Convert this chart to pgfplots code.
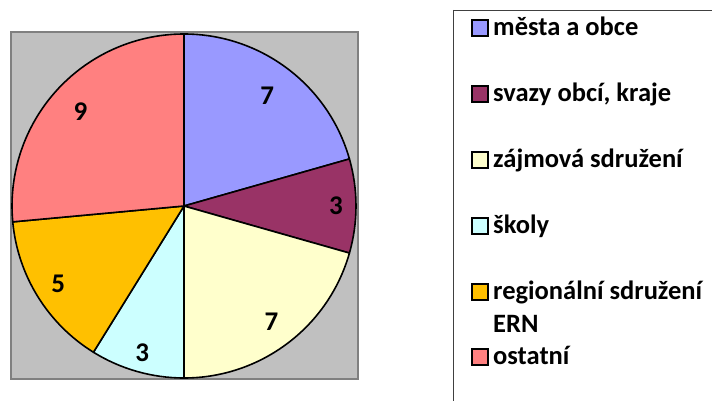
\documentclass[border=0pt]{standalone}
\usepackage{pgfplots}
\usepackage{pgfplotstable}
\usepackage{fontspec}
\setmainfont{Carlito}
\pgfplotsset{compat=1.18}

\definecolor{cblue}{HTML}{9999FF}
\definecolor{cplum}{HTML}{993366}
\definecolor{cyell}{HTML}{FFFFCC}
\definecolor{ccyan}{HTML}{CCFFFF}
\definecolor{corng}{HTML}{FFC000}
\definecolor{cred}{HTML}{FF8080}
\definecolor{bggray}{HTML}{C0C0C0}
\definecolor{frgray}{HTML}{808080}

% value, slice colour, label distance from centre (bp)
\pgfplotstableread{
value col   lr
7     cblue 138
3     cplum 152
7     cyell 145
3     ccyan 153
5     corng 148
9     cred  140
}\piedata

\begin{document}
\begin{tikzpicture}[x=1bp,y=1bp]
\useasboundingbox (0,0) rectangle (712,400);
\begin{axis}[
    at={(11bp,21bp)}, anchor=south west,
    x=1bp, y=1bp,
    xmin=-173, xmax=174, ymin=-173, ymax=174,
    xtick=\empty, ytick=\empty,
    axis line style={draw=frgray, line width=1.5bp},
    axis background/.style={fill=bggray},
    clip=false,
]
\pgfplotstablegetrowsof{\piedata}
\pgfmathtruncatemacro\nrows{\pgfplotsretval-1}
\def\total{0}
\pgfplotsforeachungrouped \i in {0,...,\nrows}{
    \pgfplotstablegetelem{\i}{value}\of\piedata
    \pgfmathsetmacro\total{\total+\pgfplotsretval}
}
\def\cum{0}
\pgfplotsforeachungrouped \i in {0,...,\nrows}{
    \pgfplotstablegetelem{\i}{value}\of\piedata \let\v\pgfplotsretval
    \pgfplotstablegetelem{\i}{col}\of\piedata \let\c\pgfplotsretval
    \pgfplotstablegetelem{\i}{lr}\of\piedata \let\lr\pgfplotsretval
    \pgfmathsetmacro\a{90-\cum*360/\total}
    \pgfmathsetmacro\b{\a-\v*360/\total}
    \pgfmathsetmacro\m{(\a+\b)/2}
    \pgfmathsetmacro\ax{172*cos(\a)}
    \pgfmathsetmacro\ay{172*sin(\a)}
    \pgfmathsetmacro\lx{\lr*cos(\m)}
    \pgfmathsetmacro\ly{\lr*sin(\m)}
    \pgfmathtruncatemacro\vi{\v}
    \edef\temp{%
      \noexpand\filldraw[fill=\c, draw=black, line width=1.6bp, line join=round]
        (axis cs:0,0) -- (axis cs:\ax,\ay)
        arc[start angle=\a, end angle=\b, radius=172bp] -- cycle;
      \noexpand\node[font=\noexpand\fontsize{27bp}{30bp}\noexpand\selectfont\noexpand\bfseries]
        at (axis cs:\lx,\ly) {\vi};
    }
    \temp
    \pgfmathsetmacro\cum{\cum+\v}
}
\end{axis}

% legend
\draw[black!75, line width=0.8bp] (453,390) -- (730,390);
\draw[black!75, line width=0.8bp] (453,390) -- (453,-10);
\begin{scope}[every node/.style={anchor=base west, inner sep=0pt,
    font=\fontsize{26.5bp}{30bp}\selectfont\bfseries}]
\foreach \y/\c/\t in {365/cblue/města a obce, 299/cplum/{svazy obcí, kraje},
    233/cyell/zájmová sdružení, 167/ccyan/školy,
    101/corng/regionální sdružení, 36/cred/ostatní}{
  \filldraw[fill=\c, draw=black, line width=1.5bp] (472,\y-1) rectangle (488,\y+15);
  \node at (493,\y) {\t};
}
\node at (493,68) {ERN};
\end{scope}
\end{tikzpicture}
\end{document}
